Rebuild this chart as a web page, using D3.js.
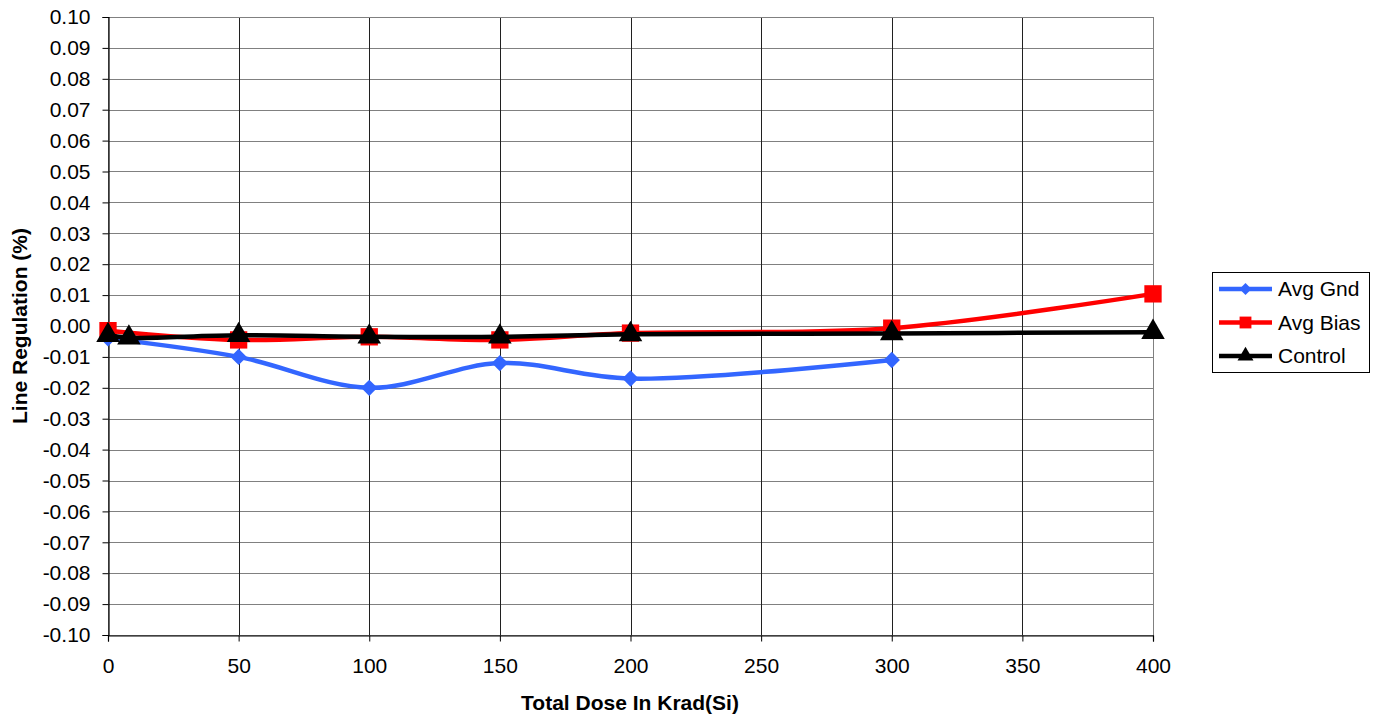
<!DOCTYPE html>
<html>
<head>
<meta charset="utf-8">
<script src="https://cdn.jsdelivr.net/npm/d3@7"></script>
<style>
  body { margin: 0; background: #fff; }
  text { font-family: "Liberation Sans", Arial, sans-serif; fill: #000; }
</style>
</head>
<body>
<svg id="chart" width="1380" height="719"></svg>
<script>
// Total dose levels (krad(Si)) and measured line regulation (%)
const doseGnd = [0, 50, 100, 150, 200, 300];
const avgGnd = [-0.004, -0.010, -0.020, -0.012, -0.017, -0.011];

const doseBias = [0, 50, 100, 150, 200, 300, 400];
const avgBias = [-0.0015, -0.0045, -0.0035, -0.0045, -0.0023, -0.0007, 0.0104];

const doseControl = [0, 8, 50, 100, 150, 200, 300, 400];
const control = [-0.003, -0.0038, -0.003, -0.0035, -0.0035, -0.0027, -0.0024, -0.002];

const xTicks = [0, 50, 100, 150, 200, 250, 300, 350, 400];
const yTicks = d3.range(-10, 11).map(d => d / 100);

const seriesNames = ["Avg Gnd", "Avg Bias", "Control"];
const seriesColors = ["#3366FF", "#FF0000", "#000000"];

const FONT = 21;

const svg = d3.select("#chart");
const plot = { left: 108, right: 1153, top: 17, bottom: 635 };

const x = d3.scaleLinear().domain([0, 400]).range([plot.left, plot.right]);
const y = d3.scaleLinear().domain([-0.10, 0.10]).range([plot.bottom, plot.top]);

// Grid lines
svg.append("g").selectAll("line").data(yTicks).join("line")
  .attr("x1", plot.left).attr("x2", plot.right)
  .attr("y1", d => Math.round(y(d)) + 0.5).attr("y2", d => Math.round(y(d)) + 0.5)
  .attr("stroke", "#808080").attr("stroke-width", 1);
svg.append("g").selectAll("line").data(xTicks.slice(1)).join("line")
  .attr("x1", d => Math.round(x(d)) + 0.5).attr("x2", d => Math.round(x(d)) + 0.5)
  .attr("y1", plot.top).attr("y2", plot.bottom)
  .attr("stroke", "#202020").attr("stroke-width", 1);

// Plot frame
svg.append("rect")
  .attr("x", plot.left + 0.5).attr("y", plot.top + 0.5)
  .attr("width", plot.right - plot.left).attr("height", plot.bottom - plot.top)
  .attr("fill", "none").attr("stroke", "#808080");

// Axes (plain hyphen for negatives)
const yAxis = d3.axisLeft(y).tickValues(yTicks).tickSize(6).tickPadding(12)
  .tickFormat(d => d.toFixed(2));
const xAxis = d3.axisBottom(x).tickValues(xTicks).tickSize(6).tickPadding(17)
  .tickFormat(d => String(d));

const gy = svg.append("g").attr("transform", `translate(${plot.left + 0.5},0)`).call(yAxis);
const gx = svg.append("g").attr("transform", `translate(0,${plot.bottom + 0.5})`).call(xAxis);
[gx, gy].forEach(g => {
  g.select(".domain").attr("stroke", "#000").attr("stroke-width", 1.2);
  g.selectAll(".tick line").attr("stroke", "#000");
  g.selectAll("text").attr("font-size", FONT).attr("font-family", "Liberation Sans, Arial, sans-serif");
});

// Axis titles
svg.append("text")
  .attr("x", 630).attr("y", 710)
  .attr("text-anchor", "middle").attr("font-size", FONT).attr("font-weight", "bold")
  .text("Total Dose In Krad(Si)");
svg.append("text")
  .attr("transform", `translate(27,${(plot.top + plot.bottom) / 2}) rotate(-90)`)
  .attr("text-anchor", "middle").attr("font-size", FONT).attr("font-weight", "bold")
  .text("Line Regulation (%)");

// Smoothed series lines
const line = d3.line().x(d => x(d[0])).y(d => y(d[1])).curve(d3.curveCatmullRom.alpha(0.5));

const series = [
  { name: seriesNames[0], color: seriesColors[0], pts: d3.zip(doseGnd, avgGnd), shape: "diamond" },
  { name: seriesNames[1], color: seriesColors[1], pts: d3.zip(doseBias, avgBias), shape: "square" },
  { name: seriesNames[2], color: seriesColors[2], pts: d3.zip(doseControl, control), shape: "triangle" }
];

const symbolPath = {
  diamond: d3.symbol().type(d3.symbolDiamond2).size(170)(),
  square: d3.symbol().type(d3.symbolSquare).size(300)(),
  triangle: d3.symbol().type(d3.symbolTriangle).size(240)()
};
const legendSymbol = {
  diamond: d3.symbol().type(d3.symbolDiamond2).size(90)(),
  square: d3.symbol().type(d3.symbolSquare).size(140)(),
  triangle: d3.symbol().type(d3.symbolTriangle).size(110)()
};

series.forEach(s => {
  const g = svg.append("g");
  g.append("path").datum(s.pts)
    .attr("d", line)
    .attr("fill", "none").attr("stroke", s.color).attr("stroke-width", 4.5)
    .attr("stroke-linejoin", "round");
  g.selectAll("path.m").data(s.pts).join("path").attr("class", "m")
    .attr("transform", d => `translate(${x(d[0])},${y(d[1])})`)
    .attr("d", symbolPath[s.shape])
    .attr("fill", s.color);
});

// Legend
const legend = svg.append("g");
legend.append("rect")
  .attr("x", 1212.5).attr("y", 272.5).attr("width", 157).attr("height", 100)
  .attr("fill", "#fff").attr("stroke", "#000");
series.forEach((s, i) => {
  const ly = 289 + i * 33.5;
  legend.append("line")
    .attr("x1", 1219).attr("x2", 1272).attr("y1", ly).attr("y2", ly)
    .attr("stroke", s.color).attr("stroke-width", 4.5);
  legend.append("path")
    .attr("transform", `translate(1245.5,${ly})`)
    .attr("d", legendSymbol[s.shape]).attr("fill", s.color);
  legend.append("text")
    .attr("x", 1278).attr("y", ly + 7).attr("font-size", FONT)
    .text(s.name);
});
</script>
</body>
</html>
